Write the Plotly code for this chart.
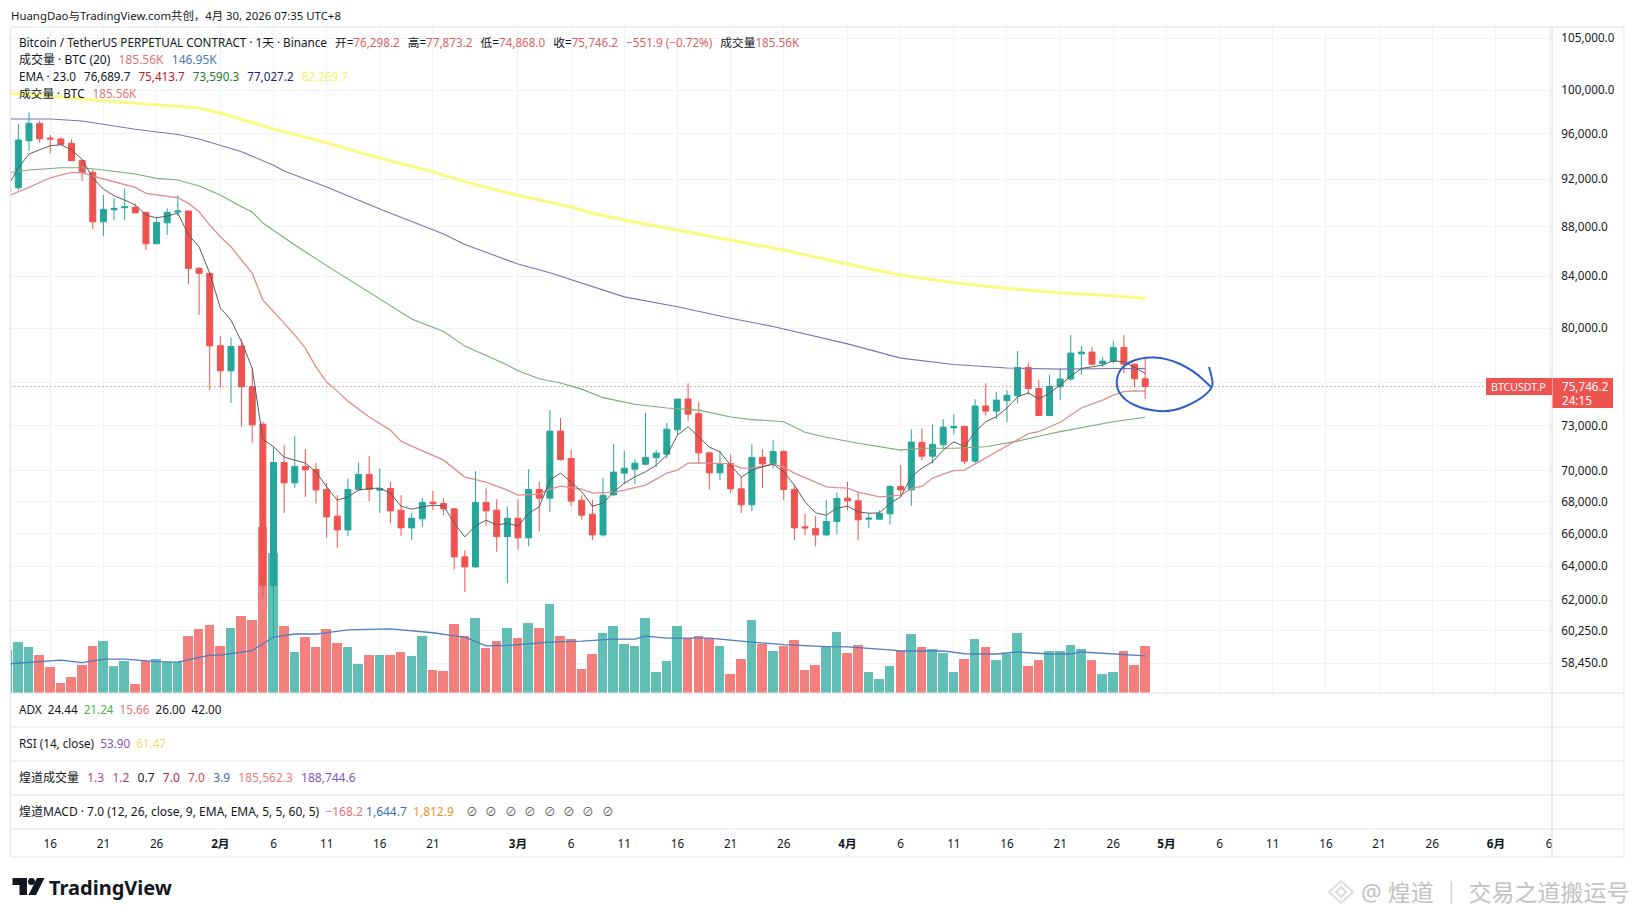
import pandas as pd
import plotly.graph_objects as go

W = 1634
H = 917
FONT = "Noto Sans, Noto Sans CJK SC, sans-serif"

dates = pd.date_range("2026-01-12", "2026-04-29")

open_ = [90910, 91255, 95367, 96930, 95610, 95520, 95135, 93630, 92585, 88390, 89390, 89560, 89600, 89175, 86590, 88310, 89200, 89285, 84615, 84220,
         78690, 76870, 78670, 75730, 73120, 62875, 70540, 69205, 70280, 70080, 68780, 67080, 66220, 68780, 69755, 68734, 68845, 67457, 66345, 66910, 67965, 67880, 67540, 64570, 63965, 67945, 67457, 65805,
         66950, 65730, 68780, 68220, 72645, 70810, 68093, 67200, 65910, 68430, 69840, 70100, 70430, 70860, 71090, 72735, 74860, 73840, 71180, 69860, 70470, 68820, 67795, 70875, 70450, 71275, 68780, 66410, 66300, 65910, 66745,
         68220, 68050, 66890, 66890, 67225, 68975, 68750, 71880, 70960, 71720, 72865, 72960, 70630, 74370, 74020, 74750, 75100, 77110, 75600, 73720, 75730, 76280, 78100, 78230, 77400, 77550, 78570, 77350, 76298.2]
high = [91500, 96870, 97940, 97170, 95880, 95670, 95490, 93657, 92845, 90630, 90350, 91200, 89870, 89225, 88810, 89510, 90630, 89310, 84695, 84220,
        79410, 79310, 79165, 77040, 73280, 71630, 71695, 72300, 71430, 70515, 69205, 68410, 69490, 70540, 70960, 70145, 69270, 68410, 67285, 68260, 68690, 68220, 67580, 64974, 69970, 68845, 68155, 67665,
        68155, 70100, 69270, 74088, 73555, 71361, 68410, 68110, 69530, 71765, 71315, 70760, 73900, 71361, 73210, 74860, 75975, 74660, 71210, 71315, 71075, 69600, 71745, 71410, 72033, 71361, 69090, 67240, 67080, 68110, 68585,
        69270, 68625, 67285, 67457, 69060, 70365, 72760, 72825, 73100, 73465, 73810, 73030, 74850, 75975, 75365, 75490, 78300, 77447, 76201, 76570, 77040, 79490, 78670, 78618, 77890, 79060, 79490, 77400, 77873.2]
low = [90800, 91059, 94477, 95190, 94247, 94985, 93570, 91830, 87790, 87240, 88533, 88533, 89090, 86078, 86565, 87300, 88890, 83380, 80990, 75490,
       75660, 74590, 72940, 71850, 62175, 59885, 67285, 68880, 68300, 67880, 65730, 65115, 65850, 68690, 68030, 67285, 66620, 65850, 65586, 66410, 67457, 67140, 63825, 62465, 63930, 66470, 64870, 62995,
       65015, 65215, 66110, 67350, 70650, 67730, 66850, 65586, 65800, 68350, 69120, 69120, 70365, 70235, 70805, 72370, 73350, 70470, 68780, 69382, 68560, 67285, 67410, 68880, 70145, 68093, 65586, 65910, 65215, 65850, 65955,
       67457, 65586, 66320, 66870, 66555, 68300, 67730, 70695, 70470, 71480, 72420, 70430, 70470, 73720, 73465, 73280, 74550, 75180, 73680, 73680, 74786, 76150, 76590, 77280, 77150, 77400, 76670, 75680, 74868.0]
close = [91290, 95430, 96930, 95546, 95520, 95045, 93595, 92550, 88390, 89425, 89510, 89645, 89140, 86590, 88340, 89175, 89285, 84615, 84220, 78690,
         76870, 78640, 75730, 73075, 62875, 70540, 69205, 70280, 70055, 68750, 67035, 66220, 68780, 69755, 68780, 68845, 67410, 66345, 66950, 67945, 67880, 67540, 64570, 63965, 67945, 67410, 65805, 66950,
         65730, 68780, 68220, 72645, 70740, 68030, 67140, 65910, 68410, 69905, 70165, 70495, 70875, 71160, 72780, 74860, 73810, 71180, 69860, 70470, 68820, 67795, 70875, 70450, 71275, 68780, 66345, 66345, 65910, 66745, 68200,
         68050, 66850, 66950, 67250, 68975, 68750, 71900, 70960, 71745, 72915, 72960, 70630, 74370, 74020, 74786, 75125, 77110, 75600, 73720, 75760, 76280, 78154, 78230, 77350, 77570, 78574, 77350, 76298, 75746.2]
volume_k = [170, 201, 183, 150, 103, 41, 64, 111, 186, 205, 107, 128, 36, 126, 134, 124, 124, 225, 253, 269,
            186, 257, 304, 288, 656, 553, 265, 162, 221, 183, 253, 198, 182, 115, 150, 150, 150, 162, 146, 225, 91, 87, 273, 225, 296, 178, 205, 257,
            217, 277, 257, 352, 225, 213, 95, 154, 237, 265, 194, 186, 296, 83, 126, 265, 217, 225, 217, 186, 75, 134, 288, 194, 166, 186, 209, 91, 111, 186, 241,
            158, 190, 83, 55, 107, 166, 233, 182, 174, 158, 83, 134, 213, 182, 130, 154, 237, 107, 130, 166, 166, 190, 174, 130, 75, 83, 166, 111, 185.56]

ema_black = [91400, 92970, 94190, 94540, 94920, 95010, 94540, 93720, 92090, 91145, 90570, 90209, 89790, 88950, 88725, 88865, 89115, 87300, 86345, 84240,
             81525, 80611, 78985, 77040, 72100, 71590, 70895, 70695, 70500, 69925, 68950, 68093, 68300, 68734, 68845, 68865, 68540, 67710, 67520, 67665, 67775, 67730, 66640, 65790, 66470, 66828, 66515, 66640,
             66455, 67265, 67665, 69382, 69840, 69270, 68625, 67710, 67900, 68625, 69185, 69600, 69925, 70365, 71030, 72370, 72945, 72255, 71560, 71245, 70365, 69580, 70035, 70255, 70430, 69925, 69060, 67985, 67285, 67140, 67585,
             67710, 67350, 67265, 67285, 67900, 68300, 69600, 70165, 70580, 71361, 71925, 71590, 72590, 73280, 73630, 74235, 75020, 75300, 74855, 75280, 75850, 76480, 77040, 77160, 77280, 77595, 77520, 77110, 76689.7]

ema_red_dates = ["2026-01-12", "2026-01-14", "2026-01-16", "2026-01-18", "2026-01-19", "2026-01-20", "2026-01-22", "2026-01-24", "2026-01-25", "2026-01-27", "2026-01-28", "2026-01-29", "2026-01-30", "2026-01-31",
                 "2026-02-01", "2026-02-02", "2026-02-03", "2026-02-04", "2026-02-05", "2026-02-06", "2026-02-07", "2026-02-08", "2026-02-09", "2026-02-10", "2026-02-11", "2026-02-12", "2026-02-13", "2026-02-15", "2026-02-17", "2026-02-18", "2026-02-19", "2026-02-22", "2026-02-24", "2026-02-26", "2026-02-28",
                 "2026-03-01", "2026-03-03", "2026-03-04", "2026-03-05", "2026-03-07", "2026-03-08", "2026-03-10", "2026-03-11", "2026-03-13", "2026-03-15", "2026-03-16", "2026-03-17", "2026-03-18", "2026-03-21", "2026-03-22", "2026-03-23", "2026-03-25", "2026-03-26", "2026-03-27", "2026-03-29", "2026-03-30", "2026-03-31",
                 "2026-04-01", "2026-04-02", "2026-04-04", "2026-04-06", "2026-04-07", "2026-04-08", "2026-04-09", "2026-04-10", "2026-04-11", "2026-04-12", "2026-04-15", "2026-04-17", "2026-04-18", "2026-04-19", "2026-04-21", "2026-04-23", "2026-04-25", "2026-04-26", "2026-04-27", "2026-04-28", "2026-04-29"]
ema_red = [90550, 91290, 92115, 92585, 92550, 92260, 91770, 91290, 90775, 90490, 90405, 89930, 89225, 88120,
           87160, 86345, 85275, 84220, 82136, 81295, 80385, 79485, 78520, 77135, 76060, 75420, 74715, 73610, 72712, 71965, 71630, 70695, 69580, 69250, 68734,
           68410, 68475, 68800, 68990, 68800, 68540, 68610, 68734, 69060, 69840, 70035, 70500, 70515, 70465, 70165, 70165, 70430, 70230, 69840, 69250, 68950, 68895,
           68865, 68610, 68300, 68410, 68830, 68990, 69515, 69775, 70000, 70035, 71225, 72033, 72470, 72610, 73250, 74235, 74786, 75140, 75380, 75430, 75413.7]

ema_green_dates = ["2026-01-12", "2026-01-14", "2026-01-17", "2026-01-19", "2026-01-21", "2026-01-24", "2026-01-26", "2026-01-28", "2026-01-30",
                   "2026-02-01", "2026-02-03", "2026-02-04", "2026-02-05", "2026-02-07", "2026-02-08", "2026-02-11", "2026-02-13", "2026-02-17", "2026-02-19", "2026-02-22", "2026-02-24", "2026-02-28",
                   "2026-03-01", "2026-03-03", "2026-03-05", "2026-03-07", "2026-03-09", "2026-03-12", "2026-03-15", "2026-03-18", "2026-03-21", "2026-03-23", "2026-03-26", "2026-03-28", "2026-03-30",
                   "2026-04-02", "2026-04-06", "2026-04-08", "2026-04-11", "2026-04-14", "2026-04-17", "2026-04-19", "2026-04-21", "2026-04-26", "2026-04-29"]
ema_green = [92550, 92783, 92985, 92985, 92783, 92435, 92065, 91917, 91400,
             90630, 89645, 89200, 88285, 87090, 86485, 84830, 83770, 81745, 80690, 79745, 78670, 77280,
             76880, 76300, 76000, 75560, 74960, 74500, 74235, 74088, 73610, 73430, 73290, 72570, 72230,
             71825, 71361, 71490, 71490, 71590, 71965, 72300, 72610, 73280, 73590.3]

ema_navy_dates = ["2026-01-12", "2026-01-16", "2026-01-19", "2026-01-24", "2026-01-28", "2026-01-30", "2026-02-03", "2026-02-06", "2026-02-07", "2026-02-11", "2026-02-16", "2026-02-22", "2026-02-24",
                  "2026-03-01", "2026-03-04", "2026-03-08", "2026-03-11", "2026-03-16", "2026-03-21", "2026-03-25", "2026-04-01", "2026-04-06", "2026-04-11", "2026-04-16", "2026-04-21", "2026-04-26", "2026-04-29"]
ema_navy = [97330, 97330, 97146, 96395, 95930, 95520, 94390, 93200, 92695, 91315, 89450, 87380, 86530,
            84955, 84265, 83220, 82385, 81620, 80745, 80125, 78835, 77790, 77320, 77070, 76990, 77040, 77027.2]

ema_yellow_dates = ["2026-01-12", "2026-01-16", "2026-01-20", "2026-01-25", "2026-01-30", "2026-02-01", "2026-02-06", "2026-02-11", "2026-02-16", "2026-02-21", "2026-02-24",
                    "2026-03-01", "2026-03-06", "2026-03-08", "2026-03-11", "2026-03-16", "2026-03-21", "2026-03-26", "2026-04-01", "2026-04-06", "2026-04-11", "2026-04-16", "2026-04-21", "2026-04-26", "2026-04-29"]
ema_yellow = [99730, 99450, 99077, 98707, 98340, 97875, 96420, 95190, 93807, 92636, 91770,
              90610, 89620, 89115, 88533, 87707, 86889, 86078, 84955, 84085, 83480, 83045, 82700, 82470, 82269.7]

vol_ma_dates = ["2026-01-12", "2026-01-15", "2026-01-17", "2026-01-19", "2026-01-21", "2026-01-23", "2026-01-26", "2026-01-28", "2026-01-31",
                "2026-02-01", "2026-02-04", "2026-02-06", "2026-02-08", "2026-02-10", "2026-02-13", "2026-02-17", "2026-02-21", "2026-02-23", "2026-02-24", "2026-02-26", "2026-02-28",
                "2026-03-02", "2026-03-04", "2026-03-07", "2026-03-10", "2026-03-12", "2026-03-13", "2026-03-15", "2026-03-19", "2026-03-23", "2026-03-26", "2026-03-30",
                "2026-04-01", "2026-04-05", "2026-04-06", "2026-04-10", "2026-04-12", "2026-04-15", "2026-04-17", "2026-04-20", "2026-04-22", "2026-04-23", "2026-04-25", "2026-04-29"]
vol_ma = [115, 124, 130, 120, 134, 134, 124, 122, 150,
          150, 167, 221, 233, 233, 249, 253, 238, 226, 221, 186, 188,
          194, 201, 205, 213, 213, 225, 217, 217, 201, 191, 183,
          182, 170, 166, 166, 155, 154, 162, 154, 154, 162, 157, 146.95]

price_ticks = [105000, 100000, 96000, 92000, 88000, 84000, 80000, 76000, 73000, 70000, 68000, 66000, 64000, 62000, 60250, 58450]
time_ticks = ["2026-01-16", "2026-01-21", "2026-01-26", "2026-02-01", "2026-02-06", "2026-02-11", "2026-02-16", "2026-02-21",
              "2026-03-01", "2026-03-06", "2026-03-11", "2026-03-16", "2026-03-21", "2026-03-26",
              "2026-04-01", "2026-04-06", "2026-04-11", "2026-04-16", "2026-04-21", "2026-04-26",
              "2026-05-01", "2026-05-06", "2026-05-11", "2026-05-16", "2026-05-21", "2026-05-26", "2026-06-01", "2026-06-06"]
time_labels = ["16", "21", "26", "<b>2月</b>", "6", "11", "16", "21",
               "<b>3月</b>", "6", "11", "16", "21", "26",
               "<b>4月</b>", "6", "11", "16", "21", "26",
               "<b>5月</b>", "6", "11", "16", "21", "26", "<b>6月</b>", "6"]

GREEN = "#26a69a"
RED = "#ef5350"
GRID = "#f1f3f7"
BORDER = "#e0e3eb"
LEFT = 10.4
RIGHT = 1552
TOP = 27
BOTTOM = 693
TEXT_SIZE = 11.7
GAP = "&nbsp;&nbsp;&#8201;"
x_range = ["2026-01-12 06:00", "2026-06-06 06:30"]


def px(x):
    return x / W


def py(y):
    return 1 - y / H


def span(text, color):
    return f'<span style="color:{color}">{text}</span>'


def label(x, y, text, size=TEXT_SIZE, color="#131722", xanchor="left"):
    return dict(x=px(x), y=py(y), xref="paper", yref="paper", text=text, showarrow=False,
                xanchor=xanchor, yanchor="middle", borderpad=0,
                font=dict(family=FONT, size=size, color=color))


def hline(y, color=BORDER):
    return dict(type="line", xref="paper", yref="paper", x0=px(LEFT), x1=px(1624), y0=py(y), y1=py(y),
                line=dict(color=color, width=1), layer="above")


def box(x0, y0, x1, y1, color):
    return dict(type="rect", xref="paper", yref="paper", x0=px(x0), x1=px(x1), y0=py(y0), y1=py(y1),
                fillcolor=color, line=dict(width=0), layer="above")


def smooth_path(points):
    # quadratic segments through the midpoints, good enough for a hand drawn stroke
    pts = [(px(a), py(b)) for a, b in points]
    path = f"M {pts[0][0]} {pts[0][1]}"
    for i in range(1, len(pts) - 1):
        mx = (pts[i][0] + pts[i + 1][0]) / 2
        my = (pts[i][1] + pts[i + 1][1]) / 2
        path += f" Q {pts[i][0]} {pts[i][1]} {mx} {my}"
    path += f" L {pts[-1][0]} {pts[-1][1]}"
    return path


def polygon(points):
    return "M " + " L ".join(f"{px(a)} {py(b)}" for a, b in points) + " Z"


fig = go.Figure()

bar_colors = ["rgba(38,166,154,0.72)" if c >= o else "rgba(239,83,80,0.74)" for o, c in zip(open_, close)]
fig.add_trace(go.Bar(x=dates, y=volume_k, marker=dict(color=bar_colors, line=dict(width=0)),
                     width=0.9 * 86400000, yaxis="y"))
fig.add_trace(go.Scatter(x=vol_ma_dates, y=vol_ma, mode="lines", line=dict(color="#4f7dbd", width=1.3), yaxis="y"))

fig.add_trace(go.Scatter(x=x_range, y=[close[-1], close[-1]], mode="lines", yaxis="y2",
                         line=dict(color="rgba(170,70,70,0.85)", width=1, dash="1px,3px")))
fig.add_trace(go.Scatter(x=ema_yellow_dates, y=ema_yellow, mode="lines", yaxis="y2", line=dict(color="#fafa86", width=3.2)))
fig.add_trace(go.Scatter(x=ema_navy_dates, y=ema_navy, mode="lines", yaxis="y2", line=dict(color="#7676bb", width=1.1)))
fig.add_trace(go.Scatter(x=ema_green_dates, y=ema_green, mode="lines", yaxis="y2", line=dict(color="#79ae79", width=1.1)))
fig.add_trace(go.Scatter(x=ema_red_dates, y=ema_red, mode="lines", yaxis="y2", line=dict(color="#dd8f8e", width=1.3)))
fig.add_trace(go.Candlestick(x=dates, open=open_, high=high, low=low, close=close, yaxis="y2",
                             increasing=dict(line=dict(color=GREEN, width=1), fillcolor=GREEN),
                             decreasing=dict(line=dict(color=RED, width=1), fillcolor=RED)))
fig.add_trace(go.Scatter(x=dates, y=ema_black, mode="lines", yaxis="y2", line=dict(color="#5c5c5c", width=1)))

legend = [
    label(17.5, 42, "Bitcoin / TetherUS PERPETUAL CONTRACT · 1天 · Binance" + GAP
          + "开=" + span("76,298.2", "#d9625f") + GAP + "高=" + span("77,873.2", "#d9625f")
          + GAP + "低=" + span("74,868.0", "#d9625f") + GAP + "收=" + span("75,746.2", "#d9625f")
          + GAP + span("−551.9 (−0.72%)", "#d9625f") + GAP + "成交量" + span("185.56K", "#d9625f")),
    label(17.5, 59, "成交量 · BTC (20)" + GAP + span("185.56K", "#e57373") + GAP + span("146.95K", "#4a78b8"), size=12),
    label(17.5, 76, "EMA · 23.0" + GAP + "76,689.7" + GAP + span("75,413.7", "#b71c1c") + GAP
          + span("73,590.3", "#1b7a1b") + GAP + span("77,027.2", "#1a237e") + GAP + span("82,269.7", "#f2f26a")),
    label(17.5, 93, "成交量 · BTC" + GAP + span("185.56K", "#e57373")),
    label(10, 15, "HuangDao与TradingView.com共创，4月 30, 2026 07:35 UTC+8", size=11.4),
    label(17.5, 709, "ADX&nbsp;&nbsp;24.44&nbsp;&nbsp;" + span("21.24", "#4caf50") + "&nbsp;&nbsp;" + span("15.66", "#e57373") + "&nbsp;&nbsp;26.00&nbsp;&nbsp;42.00"),
    label(17.5, 743, "RSI (14, close)&nbsp;&nbsp;" + span("53.90", "#7e57c2") + "&nbsp;&nbsp;" + span("61.47", "#eeda6a")),
    label(17.5, 777, "煌道成交量" + GAP + span("1.3", "#c2407a") + GAP + span("1.2", "#a8478a") + GAP + "0.7" + GAP
          + span("7.0", "#b22833") + GAP + span("7.0", "#d84a4a") + GAP + span("3.9", "#3d6fb5") + GAP
          + span("185,562.3", "#ef7a7a") + GAP + span("188,744.6", "#7e57c2"), size=12),
    label(17.5, 811, "煌道MACD · 7.0 (12, 26, close, 9, EMA, EMA, 5, 5, 60, 5)&nbsp;&nbsp;" + span("−168.2", "#e57373") + "&nbsp;"
          + span("1,644.7", "#3d6fb5") + "&nbsp;&nbsp;" + span("1,812.9", "#f0902c"), size=12),
    label(1490, 387, "BTCUSDT.P", color="#ffffff", size=10.6),
    label(1561, 386, f"{close[-1]:,.1f}", color="#ffffff"),
    label(1561, 400, "24:15", color="#ffffff"),
    label(48, 887, "<b>TradingView</b>", size=20, color="#131722"),
    label(1360, 892, "@ 煌道 ｜ 交易之道搬运号", size=23, color="#c2c2c2"),
]
# the eight empty values at the end of the MACD row
for i in range(8):
    legend.append(label(465 + 19.4 * i, 811, "⊘", color="#555555"))

# hand drawn blue circle round the last candles
circle_px = [(1209, 367), (1213, 380), (1212, 389), (1198, 401), (1172, 412), (1146, 410), (1125, 401),
             (1115, 386), (1120, 367), (1141, 357), (1167, 358), (1193, 370), (1212, 388)]

shapes = [
    box(RIGHT + 0.5, 829, 1575, 856, "#ffffff"),
    hline(TOP), hline(BOTTOM), hline(727), hline(761), hline(795), hline(829), hline(857),
    dict(type="line", xref="paper", yref="paper", x0=px(LEFT), x1=px(LEFT), y0=py(TOP), y1=py(857), line=dict(color=BORDER, width=1), layer="above"),
    dict(type="line", xref="paper", yref="paper", x0=px(RIGHT), x1=px(RIGHT), y0=py(TOP), y1=py(857), line=dict(color="#d6d9e0", width=1), layer="above"),
    dict(type="line", xref="paper", yref="paper", x0=px(1624), x1=px(1624), y0=py(TOP), y1=py(857), line=dict(color=BORDER, width=1), layer="above"),
    box(1486, 378, RIGHT, 395, "#ef5350"),
    box(RIGHT + 0.5, 378, 1613, 408, "#ef5350"),
    dict(type="path", xref="paper", yref="paper", path=smooth_path(circle_px), line=dict(color="#2f5fc4", width=2), layer="above"),
    # TradingView mark
    dict(type="path", xref="paper", yref="paper", layer="above", fillcolor="#131722", line=dict(width=0),
         path=polygon([(12.5, 878), (27, 878), (27, 895), (19.5, 895), (19.5, 885), (12.5, 885)])),
    dict(type="circle", xref="paper", yref="paper", layer="above", fillcolor="#131722", line=dict(width=0),
         x0=px(28), x1=px(35), y0=py(878), y1=py(885)),
    dict(type="path", xref="paper", yref="paper", layer="above", fillcolor="#131722", line=dict(width=0),
         path=polygon([(37, 878), (44.5, 878), (36, 895), (28.5, 895)])),
    # watermark mark
    dict(type="path", xref="paper", yref="paper", layer="above", line=dict(color="#dcdcdc", width=2),
         path=polygon([(1329, 892), (1341, 881), (1353, 892), (1341, 903)])),
    dict(type="path", xref="paper", yref="paper", layer="above", line=dict(color="#dcdcdc", width=2),
         path=polygon([(1336, 892), (1341, 887), (1346, 892), (1341, 897)])),
]

fig.update_layout(
    width=W,
    height=H,
    margin=dict(l=0, r=0, t=0, b=0),
    paper_bgcolor="#ffffff",
    plot_bgcolor="#ffffff",
    showlegend=False,
    hovermode=False,
    bargap=0,
    boxgap=0.25,
    boxgroupgap=0.25,
    annotations=legend,
    shapes=shapes,
    font=dict(family=FONT, size=12, color="#131722"),
    xaxis=dict(
        domain=[px(LEFT), px(RIGHT)],
        type="date",
        range=x_range,
        rangeslider=dict(visible=False),
        tickmode="array",
        tickvals=time_ticks,
        ticktext=time_labels,
        showgrid=True,
        gridcolor=GRID,
        gridwidth=1,
        zeroline=False,
        showline=False,
        ticks="outside",
        ticklen=4,
        tickcolor="rgba(0,0,0,0)",
        tickfont=dict(family=FONT, size=TEXT_SIZE, color="#131722"),
        tickangle=0,
        anchor="free",
        position=py(829),
    ),
    yaxis=dict(
        domain=[py(BOTTOM), py(TOP)],
        range=[0, 2631],
        visible=False,
        showgrid=False,
        zeroline=False,
    ),
    yaxis2=dict(
        domain=[py(BOTTOM), py(TOP)],
        overlaying="y",
        side="right",
        type="log",
        range=[4.75461, 5.02569],
        anchor="free",
        position=px(RIGHT),
        tickmode="array",
        tickvals=price_ticks,
        ticktext=[f"{v:,.1f}" for v in price_ticks],
        showgrid=True,
        gridcolor=GRID,
        gridwidth=1,
        zeroline=False,
        showline=False,
        ticks="outside",
        ticklen=6,
        tickcolor="rgba(0,0,0,0)",
        tickfont=dict(family=FONT, size=TEXT_SIZE, color="#131722"),
    ),
)

fig.write_html("out.html", config=dict(displayModeBar=False),
               post_script="document.body.style.margin='0';document.body.style.overflow='hidden';")
